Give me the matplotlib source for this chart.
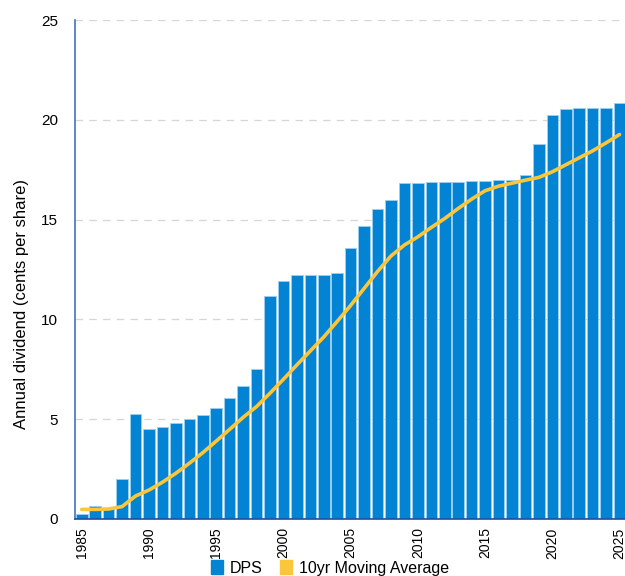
import numpy as np
import matplotlib
matplotlib.use("Agg")
import matplotlib.pyplot as plt
from matplotlib.patches import Patch

plt.rcParams['font.family'] = ['Liberation Sans', 'DejaVu Sans']

years = list(range(1985, 2026))
dps = [0.25, 0.65, 0.5, 2.0, 5.28, 4.5, 4.59, 4.81, 4.99, 5.19,
       5.56, 6.05, 6.65, 7.5, 11.17, 11.94, 12.22, 12.22, 12.22, 12.31,
       13.6, 14.7, 15.53, 15.97, 16.85, 16.85, 16.9, 16.9, 16.9, 16.92,
       16.93, 16.98, 17.0, 17.25, 18.77, 20.26, 20.53, 20.58, 20.58, 20.58,
       20.83]
moving_avg = [0.48, 0.48, 0.5, 0.62, 1.15, 1.45, 1.84, 2.29, 2.79, 3.32,
              3.9, 4.49, 5.09, 5.63, 6.3, 7.0, 7.72, 8.42, 9.12, 9.9,
              10.7, 11.55, 12.4, 13.18, 13.73, 14.14, 14.61, 15.06, 15.56, 16.03,
              16.45, 16.68, 16.83, 16.98, 17.12, 17.4, 17.75, 18.1, 18.45, 18.85,
              19.27]

bar_color = "#0283D3"
line_color = "#FCC63A"

fig = plt.figure(figsize=(6.25, 5.76), dpi=100)
ax = fig.add_axes([0.12, 0.099, 0.882, 0.866])

ax.bar(years, dps, width=0.86, color=bar_color, edgecolor="#9fd0f0",
       linewidth=0.6, zorder=2)
ax.plot(years, moving_avg, color=line_color, linewidth=2.6, zorder=3,
        solid_capstyle="round", solid_joinstyle="round")

ax.set_xlim(1984.5, 2025.5)
ax.set_ylim(0, 25)
ax.set_yticks([0, 5, 10, 15, 20, 25])
ax.set_xticks(list(range(1985, 2026, 5)))
ax.tick_params(axis="x", rotation=90, length=0, labelsize=10, pad=6)
ax.tick_params(axis="y", length=0, labelsize=11, pad=12)
ax.yaxis.grid(True, color="#d6d6d6", linestyle=(0, (6, 5)), linewidth=0.9, zorder=0)
ax.set_axisbelow(True)

for s in ["top", "right"]:
    ax.spines[s].set_visible(False)
ax.spines["left"].set_color("#4472c4")
ax.spines["left"].set_linewidth(1.2)
ax.spines["bottom"].set_color("#1f4fa8")
ax.spines["bottom"].set_linewidth(1.2)

ax.set_ylabel("Annual dividend (cents per share)", fontsize=12)
ax.yaxis.set_label_coords(-0.083, 0.43)

handles = [Patch(color=bar_color, label="DPS"),
           Patch(color=line_color, label="10yr Moving Average")]
fig.legend(handles=handles, loc="center", bbox_to_anchor=(0.528, 0.014),
           ncol=2, frameon=False, fontsize=11.5, handlelength=0.75,
           handleheight=0.9, handletextpad=0.45, columnspacing=1.1,
           borderpad=0.0)

fig.savefig("out.png", dpi=100)
